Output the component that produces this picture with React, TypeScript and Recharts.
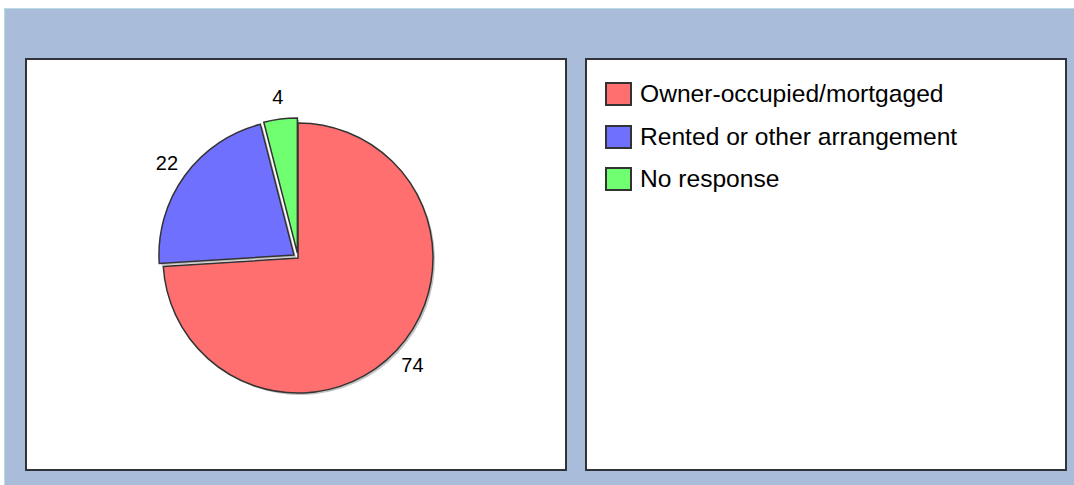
import React from 'react';
import { PieChart, Pie, Cell, Legend } from 'recharts';

const categories = ['Owner-occupied/mortgaged', 'Rented or other arrangement', 'No response'];
const values = [74, 22, 4];
const colors = ['#ff6f6f', '#7070ff', '#70ff70'];
const explodeDist = [0, 5, 5];

const data = categories.map((name, i) => ({ name, value: values[i] }));

const CX = 298;
const CY = 258;
const R = 135;
const SHADOW = 2;
const FONT = '"Liberation Sans", Arial, sans-serif';

const total = values.reduce((a, b) => a + b, 0);

function offsetFor(i: number): [number, number] {
  let before = 0;
  for (let j = 0; j < i; j++) before += values[j];
  const mid = 90 - (360 * (before + values[i] / 2)) / total;
  const rad = (mid * Math.PI) / 180;
  return [explodeDist[i] * Math.cos(rad), -explodeDist[i] * Math.sin(rad)];
}

const renderLabel = (target: number) => (props: any) => {
  if (props.index !== target) return null;
  const { cx, cy, midAngle, outerRadius, value } = props;
  const rad = (-midAngle * Math.PI) / 180;
  const r = outerRadius + 22;
  const x = cx + r * Math.cos(rad);
  const y = cy + r * Math.sin(rad);
  return (
    <text
      key={`lbl-${target}`}
      x={x}
      y={y}
      textAnchor="middle"
      dominantBaseline="central"
      fill="#000"
      style={{ fontFamily: FONT, fontSize: 20 }}
    >
      {value}
    </text>
  );
};

const LegendContent = () => (
  <div style={{ fontFamily: FONT, fontSize: 24.6, color: '#000' }}>
    {categories.map((c, i) => (
      <div key={c} style={{ display: 'flex', alignItems: 'center', height: 42.5 }}>
        <span
          style={{
            display: 'inline-block',
            width: 23,
            height: 20,
            background: colors[i],
            border: '2px solid #333',
            marginRight: 8,
          }}
        />
        <span style={{ whiteSpace: 'nowrap' }}>{c}</span>
      </div>
    ))}
  </div>
);

export default function App() {
  const shadowPies = values.map((_, i) => {
    const [dx, dy] = offsetFor(i);
    return (
      <Pie
        key={`shadow-${i}`}
        data={data}
        dataKey="value"
        nameKey="name"
        cx={CX + dx + SHADOW}
        cy={CY + dy + SHADOW}
        outerRadius={R}
        innerRadius={0}
        startAngle={90}
        endAngle={-270}
        isAnimationActive={false}
        legendType="none"
        labelLine={false}
        stroke="none"
      >
        {data.map((d, j) => (
          <Cell key={d.name} fill={j === i ? '#c4c4c4' : 'none'} stroke="none" />
        ))}
      </Pie>
    );
  });

  const slicePies = values.map((_, i) => {
    const [dx, dy] = offsetFor(i);
    return (
      <Pie
        key={`slice-${i}`}
        data={data}
        dataKey="value"
        nameKey="name"
        cx={CX + dx}
        cy={CY + dy}
        outerRadius={R}
        innerRadius={0}
        startAngle={90}
        endAngle={-270}
        isAnimationActive={false}
        legendType="none"
        labelLine={false}
        label={renderLabel(i)}
      >
        {data.map((d, j) => (
          <Cell
            key={d.name}
            fill={j === i ? colors[j] : 'none'}
            stroke={j === i ? '#333' : 'none'}
            strokeWidth={1.5}
          />
        ))}
      </Pie>
    );
  });

  return (
    <div
      style={{
        position: 'fixed',
        left: 0,
        top: 0,
        width: 1074,
        height: 485,
        background: '#ffffff',
        overflow: 'hidden',
      }}
    >
      <div
        style={{
          position: 'absolute',
          left: 4,
          top: 8,
          right: 0,
          bottom: 0,
          background: '#a9bdda',
          borderLeft: '1px solid #b8dce2',
          borderTop: '1px solid #b8dce2',
        }}
      />
      <div
        style={{
          position: 'absolute',
          left: 25,
          top: 58,
          width: 538,
          height: 409,
          background: '#fff',
          border: '2px solid #30343a',
        }}
      />
      <div
        style={{
          position: 'absolute',
          left: 585,
          top: 58,
          width: 478,
          height: 409,
          background: '#fff',
          border: '2px solid #30343a',
        }}
      />
      <div style={{ position: 'absolute', left: 0, top: 0 }}>
        <PieChart width={1074} height={485} margin={{ top: 0, right: 0, bottom: 0, left: 0 }}>
          {shadowPies}
          {slicePies}
          <Legend
            layout="vertical"
            align="right"
            verticalAlign="top"
            content={<LegendContent />}
            wrapperStyle={{ left: 605, top: 73, right: 'auto', width: 440 }}
          />
        </PieChart>
      </div>
    </div>
  );
}
